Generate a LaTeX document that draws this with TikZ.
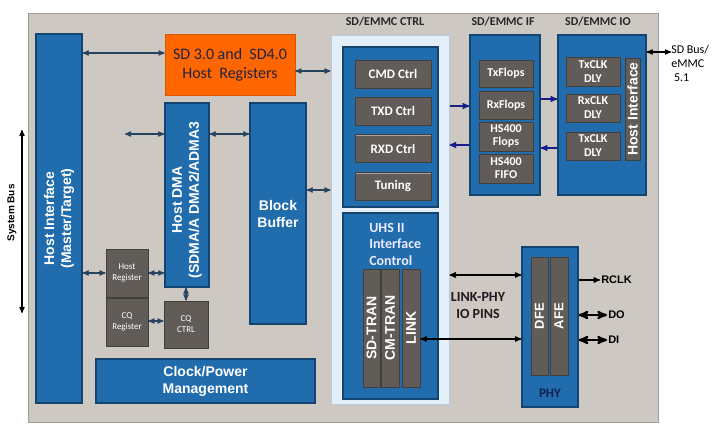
\documentclass[tikz,border=0pt]{standalone}
\usepackage{fontspec}
\setmainfont{Carlito}
\newfontfamily\arl{Liberation Sans}
\usetikzlibrary{arrows,positioning,calc}

\definecolor{panelgrey}{RGB}{205,200,194}
\definecolor{paneledge}{RGB}{160,157,153}
\definecolor{blockblue}{RGB}{33,108,172}
\definecolor{blockedge}{RGB}{20,68,112}
\definecolor{cellgrey}{RGB}{98,92,88}
\definecolor{celledge}{RGB}{66,62,58}
\definecolor{cellhi}{RGB}{165,160,155}
\definecolor{orangereg}{RGB}{255,102,0}
\definecolor{paleblue}{RGB}{228,239,250}
\definecolor{paleedge}{RGB}{185,200,220}
\definecolor{wirecol}{RGB}{38,68,96}
\definecolor{navywire}{RGB}{22,30,140}
\definecolor{darktext}{RGB}{30,36,70}
\definecolor{pintext}{RGB}{38,22,30}
\definecolor{phytext}{RGB}{18,30,82}

\begin{document}
\begin{tikzpicture}[x=1pt,y=-1pt,>=stealth',semithick]
  \tikzstyle{blk}=[draw=blockedge, fill=blockblue, line width=1.3pt, inner sep=0pt,
                   text=white, align=center]
  \tikzstyle{cell}=[draw=celledge, fill=cellgrey, line width=0.8pt, inner sep=0pt,
                    text=white, align=center,
                    path picture={\draw[cellhi, line width=2pt]
                      (path picture bounding box.north west) --
                      (path picture bounding box.north east);}]
  \tikzstyle{vtext}=[rotate=90, text=white, align=center, inner sep=0pt,
                     font=\arl\bfseries\fontsize{14}{17}\selectfont]
  \tikzstyle{hdr}=[font=\bfseries\fontsize{12}{14}\selectfont, text=black!85]
  \tikzstyle{dbl}=[<->, wirecol, line width=1.2pt]
  \tikzstyle{fwd}=[->, navywire, line width=1.4pt]

  \useasboundingbox (0,0) rectangle (712,431);

  % panel
  \node[draw=paneledge, fill=panelgrey, line width=1pt, minimum width=630,
        minimum height=409, anchor=north west, inner sep=0pt] (panel) at (28,13) {};

  % host side
  \node[blk, minimum width=46, minimum height=369] (hif) at (59,218.5) {};
  \node[vtext] (hif-t) at (hif) {Host Interface\\(Master/Target)};

  \node[fill=orangereg, draw=orangereg!85!black, inner sep=0pt, minimum width=130,
        minimum height=61, align=center, text=darktext,
        font=\fontsize{16}{19}\selectfont] (sdreg) at (230,64.5)
        {SD 3.0 and\ \ SD4.0\\Host\ \ Registers};

  \node[blk, minimum width=44, minimum height=184] (hdma) at (187,195) {};
  \node[vtext] (hdma-t) at (187,200) {Host DMA\\(SDMA/A DMA2/ADMA3};

  \node[blk, minimum width=56, minimum height=221,
        font=\arl\bfseries\fontsize{14}{17}\selectfont] (bbuf) at (278,213.5)
        {Block\\Buffer};

  \node[cell, minimum width=42, minimum height=48,
        font=\fontsize{9}{11}\selectfont] (hreg) at (127,273) {Host\\Register};
  \node[cell, minimum width=42, minimum height=48,
        font=\fontsize{9}{11}\selectfont] (cqreg) at (127,322) {CQ\\Register};
  \node[cell, minimum width=44, minimum height=47,
        font=\fontsize{9}{11}\selectfont] (cqctrl) at (186,324.5) {CQ\\CTRL};

  \node[blk, minimum width=219, minimum height=44,
        font=\arl\bfseries\fontsize{14}{17}\selectfont] (clk) at (205.5,381)
        {Clock/Power\\Management};

  % SD/EMMC CTRL
  \node[hdr] (ctrl-l) at (385,22) {SD/EMMC CTRL};
  \node[draw=paleedge, fill=paleblue, line width=1pt, inner sep=0pt,
        minimum width=118, minimum height=369] (ctrl) at (390,219.5) {};
  \node[blk, minimum width=95, minimum height=160] (ctrlup) at (390.5,127) {};
  \node[cell, minimum width=76, minimum height=28,
        font=\bfseries\fontsize{13}{15}\selectfont] (cmd) at (393,74) {CMD Ctrl};
  \node[cell, minimum width=76, minimum height=28,
        font=\bfseries\fontsize{13}{15}\selectfont] (txd) at (393,111) {TXD Ctrl};
  \node[cell, minimum width=76, minimum height=28,
        font=\bfseries\fontsize{13}{15}\selectfont] (rxd) at (393,148.5) {RXD Ctrl};
  \node[cell, minimum width=76, minimum height=28,
        font=\bfseries\fontsize{13}{15}\selectfont] (tun) at (393,186.5) {Tuning};

  \node[blk, minimum width=95, minimum height=186] (uhs) at (390.5,306) {};
  \node[anchor=west, inner sep=0pt, align=left, text=white!92!blue,
        font=\bfseries\fontsize{14}{16.5}\selectfont] (uhs-t) at (369,244)
        {UHS II\\Interface\\Control};
  \node[cell, minimum width=17, minimum height=118] (sdtran) at (371.5,328) {};
  \node[cell, minimum width=18, minimum height=118] (cmtran) at (390,328) {};
  \node[cell, minimum width=18, minimum height=118] (link) at (411,328) {};
  \node[vtext] at (sdtran) {SD-TRAN};
  \node[vtext] at (cmtran) {CM-TRAN};
  \node[vtext] at (link) {LINK};

  % SD/EMMC IF
  \node[hdr] (if-l) at (503,22) {SD/EMMC IF};
  \node[blk, minimum width=70, minimum height=160] (ifbox) at (505,115) {};
  \node[cell, minimum width=54, minimum height=27,
        font=\bfseries\fontsize{12}{14}\selectfont] (txf) at (506,73.5) {TxFlops};
  \node[cell, minimum width=54, minimum height=28,
        font=\bfseries\fontsize{12}{14}\selectfont] (rxf) at (506,105) {RxFlops};
  \node[cell, minimum width=54, minimum height=29,
        font=\bfseries\fontsize{12}{13}\selectfont] (hsf) at (506,136.5) {HS400\\Flops};
  \node[cell, minimum width=54, minimum height=29,
        font=\bfseries\fontsize{12}{13}\selectfont] (hsfifo) at (506,168.5) {HS400\\FIFO};

  % SD/EMMC IO
  \node[hdr] (io-l) at (598,22) {SD/EMMC IO};
  \node[blk, minimum width=88, minimum height=160] (iobox) at (602,115) {};
  \node[cell, minimum width=54, minimum height=29,
        font=\bfseries\fontsize{12}{14}\selectfont] (txclk) at (593,71.5) {TxCLK\\DLY};
  \node[cell, minimum width=54, minimum height=28,
        font=\bfseries\fontsize{12}{14}\selectfont] (rxclk) at (593,108) {RxCLK\\DLY};
  \node[cell, minimum width=54, minimum height=28,
        font=\bfseries\fontsize{12}{14}\selectfont] (txclkb) at (593,146) {TxCLK\\DLY};
  \node[cell, minimum width=15, minimum height=102] (iohif) at (632.5,109) {};
  \node[vtext] at (iohif) {Host Interface};

  \node[anchor=north west, inner sep=0pt, align=left, text=black,
        font=\fontsize{12}{14}\selectfont] (sdbus) at (671,45)
        {SD Bus/\\eMMC\\\ 5.1};

  % PHY
  \node[blk, minimum width=56, minimum height=160] (phy) at (550,327) {};
  \node[cell, minimum width=17, minimum height=118] (dfe) at (539.5,316) {};
  \node[cell, minimum width=18, minimum height=118] (afe) at (559,316) {};
  \node[vtext, font=\arl\bfseries\fontsize{13}{15}\selectfont] at (dfe) {DFE};
  \node[vtext, font=\arl\bfseries\fontsize{13}{15}\selectfont] at (afe) {AFE};
  \node[text=phytext, font=\bfseries\fontsize{13}{15}\selectfont]
        (phy-l) at (550,393) {PHY};

  \node[align=center, text=pintext, font=\bfseries\fontsize{14}{17}\selectfont]
        (pins) at (478,306) {LINK-PHY\\IO PINS};
  \node[anchor=west, inner sep=1pt, font=\arl\bfseries\fontsize{11}{13}\selectfont]
        (rclk) at (600,280) {RCLK};
  \node[anchor=west, inner sep=1pt, font=\arl\bfseries\fontsize{11}{13}\selectfont]
        (do) at (607,315) {DO};
  \node[anchor=west, inner sep=1pt, font=\arl\bfseries\fontsize{11}{13}\selectfont]
        (di) at (607,340) {DI};

  % system bus
  \coordinate (sbtop) at (22,130);
  \coordinate (sbbot) at (22,313);
  \draw[<->, black, line width=1.2pt] (sbtop) -- (sbbot);
  \node[rotate=90, font=\arl\bfseries\fontsize{10}{12}\selectfont] (sb-l) at (12,213)
        {System Bus};

  % connections
  \coordinate (dmafree) at (125,134);
  \draw[dbl] (hif.east |- 0,53) -- (sdreg.west |- 0,53);
  \draw[dbl] (sdreg.east |- 0,71) -- (ctrl.west |- 0,71);
  \draw[dbl] (dmafree) -- (hdma.west |- dmafree);
  \draw[dbl] (hdma.east |- 0,134) -- (bbuf.west |- 0,134);
  \draw[dbl] (bbuf.east |- 0,190) -- (ctrl.west |- 0,190);
  \draw[dbl] (hif.east |- hreg.west) -- (hreg.west);
  \draw[dbl] (hreg.east) -- (hdma.west |- hreg.east);
  \draw[dbl] (cqctrl.north |- hdma.south) -- (cqctrl.north);
  \draw[dbl] (cqreg.east |- 0,321) -- (cqctrl.west |- 0,321);

  \draw[fwd] (ctrl.east |- 0,106) -- (ifbox.west |- 0,106);
  \draw[fwd] (ifbox.west |- 0,145) -- (ctrl.east |- 0,145);
  \draw[fwd] (ifbox.east |- 0,99) -- (iobox.west |- 0,99);
  \draw[fwd] (iobox.west |- 0,148) -- (ifbox.east |- 0,148);

  \draw[<->, black, line width=1.2pt] (iobox.east |- 0,52) -- (sdbus.west |- 0,52);
  \draw[<->, black, line width=1.3pt] (ctrl.east |- 0,275) -- (phy.west |- 0,275);
  \draw[<->, black, line width=1.3pt] (link.east |- 0,339) -- (phy.west |- 0,339);
  \draw[->, black, line width=1.3pt] (phy.east |- rclk) -- (rclk.west);
  \draw[<->, black, line width=2.2pt] (phy.east |- do) -- (do.west);
  \draw[<->, black, line width=2.2pt] (phy.east |- di) -- (di.west);
\end{tikzpicture}
\end{document}
